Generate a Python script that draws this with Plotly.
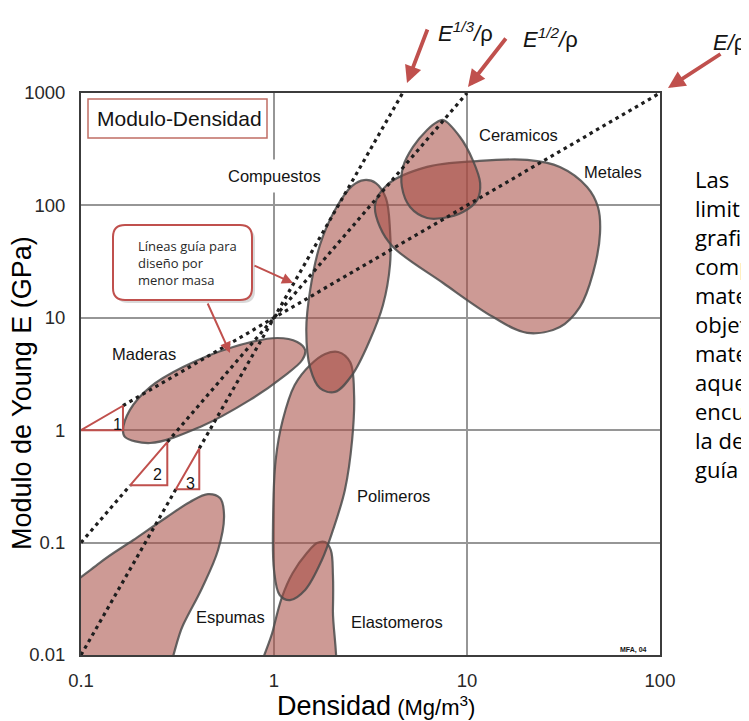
import plotly.graph_objects as go

# ---------------- data ----------------
x_tick_vals = [0.1, 1, 10, 100]
x_tick_text = ["0.1", "1", "10", "100"]
y_tick_vals = [0.01, 0.1, 1, 10, 100, 1000]
y_tick_text = ["0.01", "0.1", "1", "10", "100", "1000"]

# Material envelopes: density (Mg/m3) and Young's modulus (GPa) along each outline
compuestos_rho = [2.93, 3.37, 3.80, 3.99, 3.99, 3.67, 3.14, 2.54, 2.07, 1.73, 1.54, 1.47, 1.54, 1.73, 2.07, 2.54]
compuestos_E = [168, 158, 116, 60.4, 29.5, 13.0, 6.34, 3.10, 2.19, 2.37, 3.57, 7.78, 17.7, 44.4, 91.0, 149]

polimeros_rho = [2.15, 2.48, 2.60, 2.54, 2.33, 2.02, 1.77, 1.45, 1.21, 1.07, 1.00, 0.989, 1.02, 1.11, 1.28, 1.54, 1.84]
polimeros_E = [4.96, 4.04, 2.06, 0.818, 0.294, 0.129, 0.0700, 0.0379, 0.0308, 0.0342, 0.0571, 0.159, 0.543, 1.23, 2.52, 3.80, 4.76]

elastomeros_rho = [1.84, 1.97, 2.02, 2.02, 1.93, 0.816, 0.989, 1.10, 1.25, 1.48, 1.67]
elastomeros_E = [0.101, 0.0859, 0.0515, 0.0251, 0.004, 0.004, 0.0167, 0.0328, 0.0537, 0.0807, 0.099]

ceramicos_rho = [7.52, 9.20, 10.7, 11.7, 11.3, 9.53, 7.52, 6.21, 5.07, 4.60, 4.66, 5.25, 6.21, 7.00]
ceramicos_E = [575, 406, 254, 158, 112, 87.3, 77.2, 77.2, 96.8, 146, 220, 331, 469, 552]

metales_rho = [3.34, 3.85, 6.21, 11.3, 20.5, 30.3, 41.9, 47.7, 48.9, 45.0, 38.5, 30.3, 20.5, 13.6, 7.52, 4.14, 3.54]
metales_E = [101, 152, 220, 248, 254, 220, 146, 96.8, 56.7, 25.1, 12.5, 8.28, 7.33, 10.2, 20.4, 42.7, 64.2]

maderas_rho = [0.169, 0.228, 0.414, 0.751, 1.11, 1.40, 1.45, 1.32, 1.04, 0.614, 0.338, 0.228, 0.179, 0.165]
maderas_E = [0.871, 0.769, 1.07, 1.86, 2.97, 4.21, 5.17, 6.09, 6.61, 5.50, 3.65, 2.42, 1.51, 1.00]

espumas_rho = [0.078, 0.125, 0.186, 0.279, 0.367, 0.455, 0.525, 0.551, 0.513, 0.424, 0.338, 0.228, 0.0614]
espumas_E = [0.0308, 0.0659, 0.105, 0.169, 0.230, 0.270, 0.249, 0.176, 0.0859, 0.0395, 0.0185, 0.004, 0.004]

# Guide lines for minimum-mass design (E/rho, E^1/2/rho, E^1/3/rho)
guide1_rho = [0.165, 100]
guide1_E = [1.65, 1000]
guide2_rho = [0.1, 0.18, None, 0.28, 10]
guide2_E = [0.1, 0.324, None, 0.784, 1000]
guide3_rho = [0.1, 0.31, None, 0.41, 4.64]
guide3_E = [0.01, 0.298, None, 0.689, 1000]

# Slope triangles
tri1_rho = [0.1, 0.165, 0.165, 0.1]
tri1_E = [1.0, 1.0, 1.65, 1.0]
tri2_rho = [0.18, 0.28, 0.28, 0.18]
tri2_E = [0.324, 0.324, 0.784, 0.324]
tri3_rho = [0.31, 0.41, 0.41, 0.31]
tri3_E = [0.298, 0.298, 0.689, 0.298]

side_text_lines = ["Las", "limit", "grafi", "comp", "mate", "objet", "mate", "aque", "encu", "la de", "guía"]

# ---------------- layout helpers ----------------
OFF = 8                      # page body margin
W, H = 749 - OFF, 721 - OFF
L, R, T, B = 81, 660, 93, 655   # plot area in reference-page pixels
PW, PH = R - L, B - T
FONT = "Liberation Sans, Arial, sans-serif"
BROWN = "rgb(192,80,77)"


def pp(xp, yp):
    return (xp - L) / PW, (B - yp) / PH


def ann(text, xp, yp, size, color="rgb(20,20,20)", family=FONT, xanchor="center", yanchor="middle", **kw):
    x, y = pp(xp, yp)
    d = dict(text=text, x=x, y=y, xref="paper", yref="paper", showarrow=False,
             xanchor=xanchor, yanchor=yanchor,
             font=dict(size=size, family=family, color=color))
    d.update(kw)
    return d


def arrow(tail, head, width, size):
    x, y = pp(*head)
    return dict(text="", x=x, y=y, xref="paper", yref="paper", showarrow=True,
                ax=tail[0] - head[0], ay=tail[1] - head[1], axref="pixel", ayref="pixel",
                arrowhead=2, arrowsize=size, arrowwidth=width, arrowcolor=BROWN,
                standoff=0, startstandoff=0)


def rrect_path(x0, y0, x1, y1, r):
    def P(a, b):
        u, v = pp(a, b)
        return f"{u:.5f},{v:.5f}"
    return (f"M{P(x0 + r, y0)} L{P(x1 - r, y0)} Q{P(x1, y0)} {P(x1, y0 + r)} "
            f"L{P(x1, y1 - r)} Q{P(x1, y1)} {P(x1 - r, y1)} L{P(x0 + r, y1)} "
            f"Q{P(x0, y1)} {P(x0, y1 - r)} L{P(x0, y0 + r)} Q{P(x0, y0)} {P(x0 + r, y0)} Z")


fig = go.Figure()

FILL = "rgba(165,75,66,0.56)"
EDGE = "rgba(75,75,75,0.85)"
for rx, ey in [(espumas_rho, espumas_E), (maderas_rho, maderas_E),
               (elastomeros_rho, elastomeros_E), (polimeros_rho, polimeros_E),
               (compuestos_rho, compuestos_E), (metales_rho, metales_E),
               (ceramicos_rho, ceramicos_E)]:
    fig.add_trace(go.Scatter(x=rx + [rx[0]], y=ey + [ey[0]], mode="lines", fill="toself",
                             fillcolor=FILL, line=dict(color=EDGE, width=2.2, shape="spline", smoothing=1.0),
                             hoverinfo="skip", showlegend=False))

for rx, ey in [(guide1_rho, guide1_E), (guide2_rho, guide2_E), (guide3_rho, guide3_E)]:
    fig.add_trace(go.Scatter(x=rx, y=ey, mode="lines",
                             line=dict(color="rgb(30,30,30)", width=3.2, dash="3.5px,4px"),
                             hoverinfo="skip", showlegend=False))

for rx, ey in [(tri1_rho, tri1_E), (tri2_rho, tri2_E), (tri3_rho, tri3_E)]:
    fig.add_trace(go.Scatter(x=rx, y=ey, mode="lines", line=dict(color=BROWN, width=2),
                             hoverinfo="skip", showlegend=False))

shapes = []
# callout shadow + box
shapes.append(dict(type="path", xref="paper", yref="paper", path=rrect_path(116, 228, 255, 303, 12),
                   fillcolor="rgba(0,0,0,0.15)", line=dict(width=0), layer="above"))
shapes.append(dict(type="path", xref="paper", yref="paper", path=rrect_path(113, 225, 252, 300, 12),
                   fillcolor="white", line=dict(color=BROWN, width=2), layer="above"))
# title box
x0, y0 = pp(88, 99)
x1, y1 = pp(267, 138)
shapes.append(dict(type="rect", xref="paper", yref="paper", x0=x0, y0=y1, x1=x1, y1=y0,
                   fillcolor="white", line=dict(color="rgb(192,110,100)", width=1.5), layer="above"))

annotations = [
    ann("Modulo-Densidad", 179, 119, 21),
    ann("Compuestos", 274, 176, 16.5, bgcolor="white", borderpad=7),
    ann("Ceramicos", 518, 135, 16.5),
    ann("Metales", 613, 172, 16.5),
    ann("Maderas", 144, 354, 16.5),
    ann("Polimeros", 393, 496, 16.5),
    ann("Espumas", 230, 617, 16.5),
    ann("Elastomeros", 397, 622, 16.5),
    ann("<b>MFA, 04</b>", 633, 650, 7),
    ann("1", 117, 424, 16),
    ann("2", 157, 474, 16),
    ann("3", 190, 484, 16),
    ann("Líneas guía para<br>diseño por<br>menor masa", 136, 263, 13, family="Open Sans, sans-serif",
        color="rgb(40,40,40)", xanchor="left", align="left"),
    ann("<i>E</i><sup><i>1/3</i></sup><i>/</i>ρ", 465, 32, 22),
    ann("<i>E</i><sup><i>1/2</i></sup><i>/</i>ρ", 550, 38, 22),
    ann("<i>E/</i>ρ", 729, 43, 22),
    ann("<span style='font-size:27px'>Densidad</span> (Mg/m<sup>3</sup>)", 376, 706, 22, color="black"),
    ann("Modulo de Young E (GPa)", 22, 393, 27, color="black", textangle=-90),
    arrow((428, 28), (407, 83), 3.8, 0.9),
    arrow((507, 37), (468, 87), 3.8, 0.9),
    arrow((722, 53), (668, 88), 3.8, 0.9),
    arrow((253, 265), (293, 283), 2, 1.1),
    arrow((207, 302), (230, 353), 2, 1.1),
]
for i, line in enumerate(side_text_lines):
    annotations.append(ann(line, 693, 179 + 29 * i, 22, family="Open Sans, sans-serif", color="black",
                           xanchor="left"))

axis_common = dict(type="log", showgrid=True, gridcolor="rgb(150,150,150)", gridwidth=2,
                   showline=True, linecolor="rgb(60,60,60)", linewidth=2, mirror=True,
                   ticks="", zeroline=False, tickfont=dict(family=FONT, size=18.5, color="rgb(40,40,40)"))

fig.update_layout(
    width=W, height=H, margin=dict(l=L - OFF, r=749 - R, t=T - OFF, b=721 - B),
    paper_bgcolor="white", plot_bgcolor="white",
    xaxis=dict(range=[-1, 2], tickvals=x_tick_vals, ticktext=x_tick_text, ticklabelstandoff=8, **axis_common),
    yaxis=dict(range=[-2, 3], tickvals=y_tick_vals, ticktext=y_tick_text, ticklabelstandoff=10, **axis_common),
    shapes=shapes, annotations=annotations, showlegend=False,
)

fig.write_html("out.html")
